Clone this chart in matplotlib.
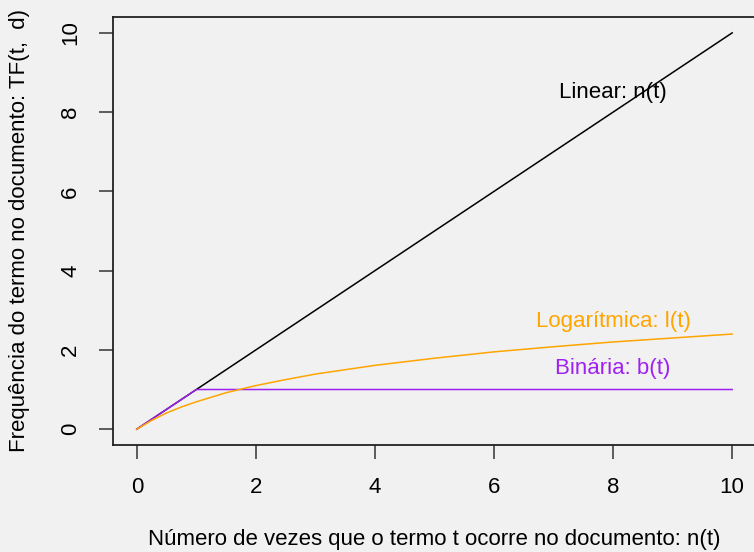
import matplotlib
matplotlib.use("Agg")
import matplotlib.pyplot as plt

# term counts n(t) and the three term-frequency weightings
linear_x = [0, 10]
linear_y = [0, 10]
binary_x = [0, 1, 10]
binary_y = [0, 1, 1]
log_x = [0, 0.25, 0.5, 0.75, 1, 1.5, 2, 2.5, 3, 4, 5, 6, 7, 8, 9, 10]
log_y = [0, 0.22, 0.41, 0.56, 0.69, 0.92, 1.10, 1.25, 1.39, 1.61, 1.79,
         1.95, 2.08, 2.20, 2.30, 2.40]
ticks = [0, 2, 4, 6, 8, 10]

plt.rcParams["font.family"] = ["Liberation Sans", "DejaVu Sans"]
fs = 16

fig = plt.figure(figsize=(7.54, 5.52), dpi=100, facecolor="#f1f1f1")
ax = fig.add_axes([113 / 754, 1 - 445 / 552, 643 / 754, 428 / 552])
ax.set_facecolor("#f1f1f1")

ax.plot(linear_x, linear_y, color="black", linewidth=1.1)
ax.plot(binary_x, binary_y, color="#A020F0", linewidth=1.1)
ax.plot(log_x, log_y, color="#FFA500", linewidth=1.1)

ax.text(8.0, 8.5, "Linear: n(t)", color="black", fontsize=fs,
        ha="center", va="center")
ax.text(8.0, 2.72, "Logarítmica: l(t)", color="#FFA500", fontsize=fs,
        ha="center", va="center")
ax.text(8.0, 1.52, "Binária: b(t)", color="#A020F0", fontsize=fs,
        ha="center", va="center")

ax.set_xlim(-0.4, 10.4)
ax.set_ylim(-0.4, 10.4)
ax.set_xticks(ticks)
ax.set_yticks(ticks)
ax.tick_params(axis="both", direction="out", length=10, width=1.1,
               labelsize=fs, color="#333333")
ax.tick_params(axis="x", pad=13)
ax.tick_params(axis="y", pad=13)
plt.setp(ax.get_yticklabels(), rotation=90, va="center")
for s in ax.spines.values():
    s.set_linewidth(1.3)
    s.set_color("#222222")

fig.text(434.5 / 754, 1 - 539 / 552,
         "Número de vezes que o termo t ocorre no documento: n(t)",
         fontsize=fs, ha="center", va="center")
fig.text(20 / 754, 1 - 231 / 552,
         "Frequência do termo no documento: TF(t,  d)",
         fontsize=fs, ha="center", va="center", rotation=90)

fig.savefig("out.png", dpi=100, facecolor=fig.get_facecolor())
